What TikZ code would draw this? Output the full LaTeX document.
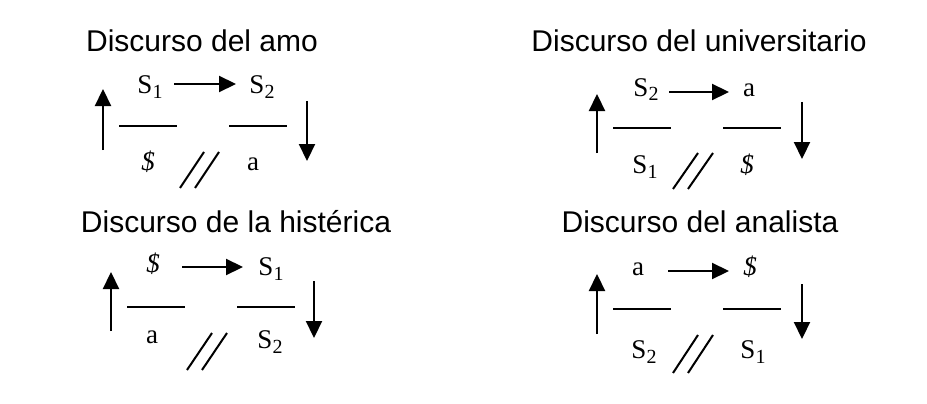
\documentclass[tikz,border=0pt]{standalone}
\usepackage{fontspec}
\setmainfont{Liberation Serif}
\newfontfamily\titlefont{Liberation Sans}
\usetikzlibrary{arrows.meta}
\newcommand\subn[1]{\raisebox{-5pt}{\fontsize{20pt}{21pt}\selectfont #1}}
\newcommand\bS{\textit{\$}}
\tikzset{
  ttl/.style={font=\titlefont\fontsize{30pt}{32pt}\selectfont, anchor=base, inner sep=0pt},
  lbl/.style={font=\fontsize{27pt}{29pt}\selectfont, anchor=base, inner sep=0pt},
  arr/.style={line width=2.2pt, -{Triangle[length=17pt,width=16pt]}},
  bar/.style={line width=2.2pt},
  sl/.style={line width=2pt}
}
\begin{document}
\begin{tikzpicture}[x=1pt,y=-1pt]
\useasboundingbox[fill=white] (0,0) rectangle (927,404);

% ---------- Discurso del amo ----------
\node[ttl] (t1) at (202,52) {Discurso del amo};
\node[lbl] (a1) at (150,94) {S\subn{1}};
\node[lbl] (b1) at (262,94) {S\subn{2}};
\node[lbl] (c1) at (148,170) {\bS};
\node[lbl] (d1) at (253,170) {a};
\coordinate (h1a) at (174,84); \coordinate (h1b) at (236,84);
\draw[arr] (h1a) -- (h1b);
\coordinate (u1a) at (103,150); \coordinate (u1b) at (103,89);
\draw[arr] (u1a) -- (u1b);
\coordinate (v1a) at (307,101); \coordinate (v1b) at (307,161);
\draw[arr] (v1a) -- (v1b);
\coordinate (l1a) at (119,126); \coordinate (l1b) at (177,126);
\draw[bar] (l1a) -- (l1b);
\coordinate (r1a) at (229,126); \coordinate (r1b) at (287,126);
\draw[bar] (r1a) -- (r1b);
\coordinate (s1a) at (180,188); \coordinate (s1b) at (204,152);
\coordinate (s1c) at (195,188); \coordinate (s1d) at (219,152);
\draw[sl] (s1a) -- (s1b); \draw[sl] (s1c) -- (s1d);

% ---------- Discurso del universitario ----------
\node[ttl] (t2) at (699,52) {Discurso del universitario};
\node[lbl] (a2) at (646,96) {S\subn{2}};
\node[lbl] (b2) at (749,96) {a};
\node[lbl] (c2) at (645,173) {S\subn{1}};
\node[lbl] (d2) at (747,173) {\bS};
\coordinate (h2a) at (669,92); \coordinate (h2b) at (729,92);
\draw[arr] (h2a) -- (h2b);
\coordinate (u2a) at (597,153); \coordinate (u2b) at (597,94);
\draw[arr] (u2a) -- (u2b);
\coordinate (v2a) at (802,102); \coordinate (v2b) at (802,159);
\draw[arr] (v2a) -- (v2b);
\coordinate (l2a) at (613,128); \coordinate (l2b) at (671,128);
\draw[bar] (l2a) -- (l2b);
\coordinate (r2a) at (723,128); \coordinate (r2b) at (781,128);
\draw[bar] (r2a) -- (r2b);
\coordinate (s2a) at (673,189); \coordinate (s2b) at (698,153);
\coordinate (s2c) at (688,189); \coordinate (s2d) at (713,153);
\draw[sl] (s2a) -- (s2b); \draw[sl] (s2c) -- (s2d);

% ---------- Discurso de la histérica ----------
\node[ttl] (t3) at (236,232) {Discurso de la histérica};
\node[lbl] (a3) at (153,272) {\bS};
\node[lbl] (b3) at (271,275) {S\subn{1}};
\node[lbl] (c3) at (152,343) {a};
\node[lbl] (d3) at (270,348) {S\subn{2}};
\coordinate (h3a) at (182,267); \coordinate (h3b) at (243,267);
\draw[arr] (h3a) -- (h3b);
\coordinate (u3a) at (111,331); \coordinate (u3b) at (111,272);
\draw[arr] (u3a) -- (u3b);
\coordinate (v3a) at (314,281); \coordinate (v3b) at (314,338);
\draw[arr] (v3a) -- (v3b);
\coordinate (l3a) at (127,307); \coordinate (l3b) at (185,307);
\draw[bar] (l3a) -- (l3b);
\coordinate (r3a) at (237,307); \coordinate (r3b) at (295,307);
\draw[bar] (r3a) -- (r3b);
\coordinate (s3a) at (187,370); \coordinate (s3b) at (212,333);
\coordinate (s3c) at (202,370); \coordinate (s3d) at (227,333);
\draw[sl] (s3a) -- (s3b); \draw[sl] (s3c) -- (s3d);

% ---------- Discurso del analista ----------
\node[ttl] (t4) at (700,232) {Discurso del analista};
\node[lbl] (a4) at (638,275) {a};
\node[lbl] (b4) at (750,275) {\bS};
\node[lbl] (c4) at (644,358) {S\subn{2}};
\node[lbl] (d4) at (753,358) {S\subn{1}};
\coordinate (h4a) at (668,271); \coordinate (h4b) at (729,271);
\draw[arr] (h4a) -- (h4b);
\coordinate (u4a) at (597,334); \coordinate (u4b) at (597,274);
\draw[arr] (u4a) -- (u4b);
\coordinate (v4a) at (802,284); \coordinate (v4b) at (802,339);
\draw[arr] (v4a) -- (v4b);
\coordinate (l4a) at (613,309); \coordinate (l4b) at (671,309);
\draw[bar] (l4a) -- (l4b);
\coordinate (r4a) at (723,309); \coordinate (r4b) at (781,309);
\draw[bar] (r4a) -- (r4b);
\coordinate (s4a) at (673,373); \coordinate (s4b) at (698,335);
\coordinate (s4c) at (688,373); \coordinate (s4d) at (713,335);
\draw[sl] (s4a) -- (s4b); \draw[sl] (s4c) -- (s4d);
\end{tikzpicture}
\end{document}
